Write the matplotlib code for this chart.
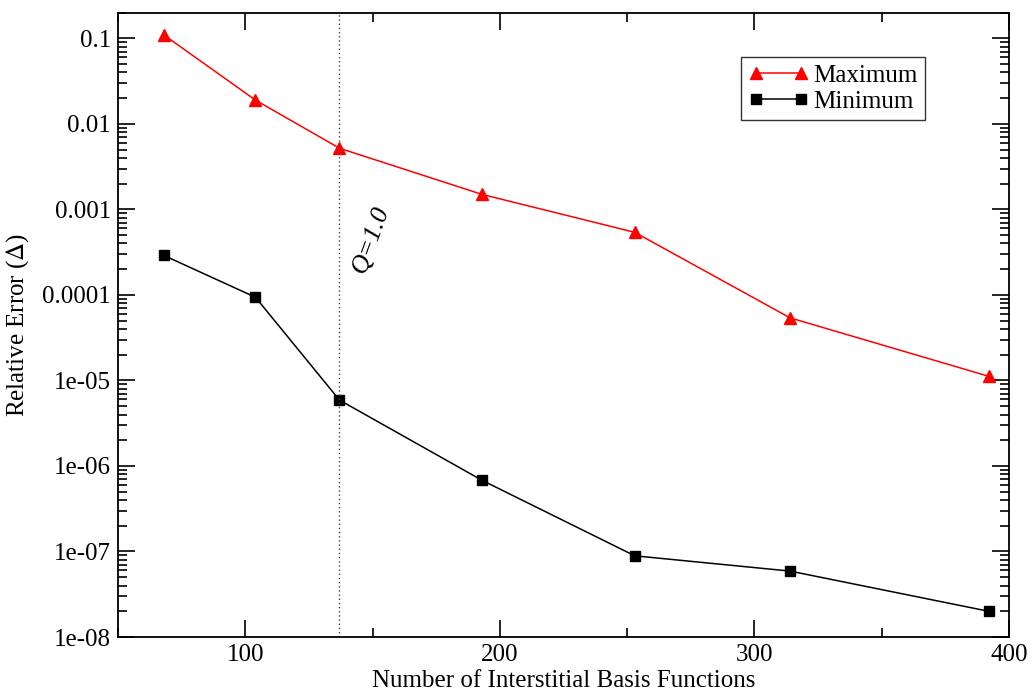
import matplotlib
matplotlib.use("Agg")
import matplotlib.pyplot as plt
from matplotlib.ticker import LogLocator, MultipleLocator, FixedLocator, NullFormatter

plt.rcParams['font.family'] = ['Liberation Serif', 'DejaVu Serif']
plt.rcParams['mathtext.fontset'] = 'stix'

# data
basis = [68, 104, 137, 193, 253, 314, 392]
err_max = [0.11, 0.019, 0.0052, 0.0015, 0.00054, 5.4e-5, 1.12e-5]
err_min = [2.9e-4, 9.4e-5, 5.9e-6, 6.8e-7, 8.9e-8, 5.9e-8, 2.0e-8]
q_line = 137
y_ticks = [1e-8, 1e-7, 1e-6, 1e-5, 1e-4, 1e-3, 1e-2, 1e-1]
y_labels = ['1e-08', '1e-07', '1e-06', '1e-05', '0.0001', '0.001', '0.01', '0.1']

fig = plt.figure(figsize=(10.32, 6.93), dpi=100)
ax = fig.add_axes([118 / 1032, 1 - 637 / 693, (1009 - 118) / 1032, (637 - 12.7) / 693])

ax.plot(basis, err_max, color='red', marker='^', markersize=9, lw=1.1, label='Maximum')
ax.plot(basis, err_min, color='black', marker='s', markersize=7.5, lw=1.1, label='Minimum')
ax.axvline(q_line, color='#444444', ls=(0, (1, 2)), lw=1)
ax.text(149.5, 4.4e-4, 'Q=1.0', rotation=70, fontsize=19, style='italic',
        ha='center', va='center')

ax.set_yscale('log')
ax.set_xlim(50, 400)
ax.set_ylim(1e-8, 0.2)
ax.yaxis.set_major_locator(FixedLocator(y_ticks))
ax.set_yticklabels(y_labels)
ax.yaxis.set_minor_locator(LogLocator(base=10, subs=range(2, 10)))
ax.yaxis.set_minor_formatter(NullFormatter())
ax.xaxis.set_major_locator(MultipleLocator(100))
ax.xaxis.set_minor_locator(MultipleLocator(50))

ax.tick_params(which='both', direction='in', top=True, right=True, labelsize=18, width=1.2)
ax.tick_params(which='major', length=12.5, pad=5)
ax.tick_params(which='minor', length=6.5)
for s in ax.spines.values():
    s.set_linewidth(1.3)

ax.set_xlabel('Number of Interstitial Basis Functions', fontsize=18, labelpad=3)
ax.set_ylabel(r'Relative Error ($\Delta$)', fontsize=18, labelpad=8)

leg = ax.legend(loc='upper left', bbox_to_anchor=((741 - 118) / 891, 1 - (57 - 12.7) / 624.3),
                fontsize=18, frameon=True, fancybox=False, edgecolor='black', numpoints=2,
                borderpad=0.3, labelspacing=0.12, handlelength=2.4, handletextpad=0.2,
                borderaxespad=0)
leg.get_frame().set_linewidth(1.0)

fig.savefig('out.png', dpi=100)
